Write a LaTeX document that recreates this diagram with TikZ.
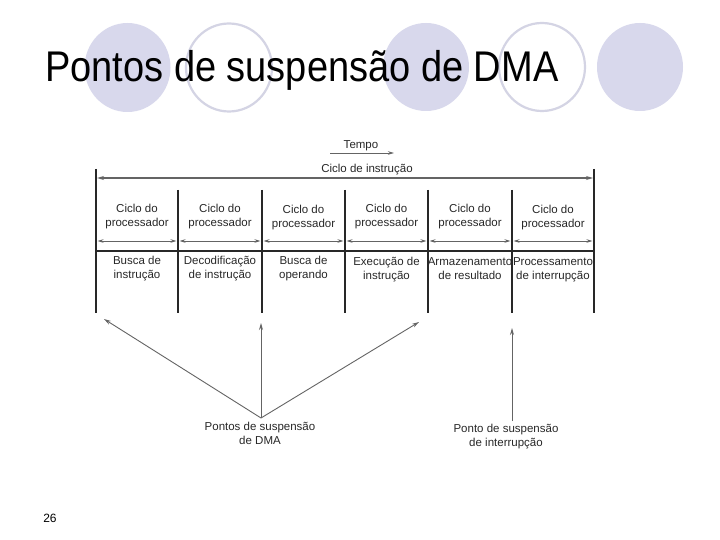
\documentclass[tikz,border=0pt]{standalone}
\usepackage{fontspec}
\setmainfont{Liberation Sans}
\usetikzlibrary{arrows.meta}
\definecolor{lav}{RGB}{216,216,236}
\definecolor{lavline}{RGB}{212,212,228}
\definecolor{ink}{RGB}{40,40,40}
\definecolor{arrowgray}{RGB}{100,100,100}
\begin{document}
\begin{tikzpicture}[x=1pt,y=-1pt,
  disc/.style={fill=lav, draw=none},
  ring/.style={draw=lavline, line width=2.2pt},
  lbl/.style={font=\fontsize{11.5}{14}\selectfont, text=ink, align=center, inner sep=0pt},
  divider/.style={draw=ink, line width=1.1pt},
  timearrow/.style={draw=arrowgray, line width=1.4pt, {Stealth[length=7pt,width=4pt]}-{Stealth[length=7pt,width=4pt]}},
  cellarrow/.style={draw=arrowgray, line width=0.9pt, {Stealth[length=6pt,width=3.5pt]}-{Stealth[length=6pt,width=3.5pt]}},
  ptr/.style={draw=arrowgray, line width=0.9pt, -{Stealth[length=7pt,width=4pt]}}]
\useasboundingbox (0,0) rectangle (720,540);
\fill[white] (0,0) rectangle (720,540);
% decorative circles
\path[disc] (127.5,67.5) ellipse [x radius=43, y radius=44.5];
\path[ring] (229,67.5) ellipse [x radius=43, y radius=44];
\path[disc] (426,67) ellipse [x radius=43, y radius=44];
\path[ring] (542,67) ellipse [x radius=43, y radius=44];
\path[disc] (640,67) ellipse [x radius=43, y radius=44];
% title
\node[anchor=base west, inner sep=0pt, font=\fontsize{38}{40}\selectfont] (title) at (45,81.5) {\scalebox{1}[1.13]{Pontos de suspensão de DMA}};
% page number
\node[anchor=center, inner sep=0pt, font=\fontsize{12}{14}\selectfont] (pagenum) at (50,518) {26};
% time indicator
\node[lbl] (tempo) at (361,146) {Tempo};
\coordinate (tempoA) at (330,153);
\coordinate (tempoB) at (394,153);
\draw[draw=arrowgray, line width=0.9pt, -{Stealth[length=6pt,width=3.5pt]}] (tempoA) -- (tempoB);
\node[lbl] (ciclo) at (367,170) {Ciclo de instrução};
% frame lines
\foreach \x/\n in {96/0,594/6} {
  \coordinate (top\n) at (\x,169);
  \coordinate (bot\n) at (\x,313);
  \draw[divider] (top\n) -- (bot\n);
}
\foreach \x/\n in {178/1,262/2,345/3,428/4,512/5} {
  \coordinate (top\n) at (\x,190);
  \coordinate (bot\n) at (\x,313);
  \draw[divider] (top\n) -- (bot\n);
}
\coordinate (instL) at (97,178);
\coordinate (instR) at (593,178);
\draw[timearrow] (instL) -- (instR);
\coordinate (hl) at (96,251);
\coordinate (hr) at (594,251);
\draw[draw=ink, line width=1.8pt] (hl) -- (hr);
% cell arrows
\foreach \a/\b/\n in {96/178/1,178/262/2,262/345/3,345/428/4,428/512/5,512/594/6} {
  \coordinate (ca\n) at (\a+1.5,241);
  \coordinate (cb\n) at (\b-1.5,241);
  \draw[cellarrow] (ca\n) -- (cb\n);
}
% cell texts
\node[lbl] (c1) at (137,217) {\strut Ciclo do\\\strut processador};
\node[lbl] (c2) at (220,217) {\strut Ciclo do\\\strut processador};
\node[lbl] (c3) at (303.5,218) {\strut Ciclo do\\\strut processador};
\node[lbl] (c4) at (386.5,217) {\strut Ciclo do\\\strut processador};
\node[lbl] (c5) at (470,217) {\strut Ciclo do\\\strut processador};
\node[lbl] (c6) at (553,218) {\strut Ciclo do\\\strut processador};
\node[lbl] (s1) at (137,269) {\strut Busca de\\\strut instrução};
\node[lbl] (s2) at (220,269) {\strut Decodificação\\\strut de instrução};
\node[lbl] (s3) at (303.5,269) {\strut Busca de\\\strut operando};
\node[lbl] (s4) at (386.5,270) {\strut Execução de\\\strut instrução};
\node[lbl] (s5) at (470,270) {\strut Armazenamento\\\strut de resultado};
\node[lbl] (s6) at (553,270) {\strut Processamento\\\strut de interrupção};
% DMA suspension points
\node[lbl] (dma) at (260,435) {\strut Pontos de suspensão\\\strut de DMA};
\coordinate (apex) at (261,418);
\coordinate (t1) at (104,319);
\coordinate (t2) at (261,323);
\coordinate (t3) at (419,322);
\draw[ptr] (apex) -- (t1);
\draw[ptr] (apex) -- (t2);
\draw[ptr] (apex) -- (t3);
% interrupt suspension point
\node[lbl] (intr) at (506,437) {\strut Ponto de suspensão\\\strut de interrupção};
\coordinate (ibase) at (512,421);
\coordinate (itip) at (512,328);
\draw[ptr] (ibase) -- (itip);
\end{tikzpicture}
\end{document}
